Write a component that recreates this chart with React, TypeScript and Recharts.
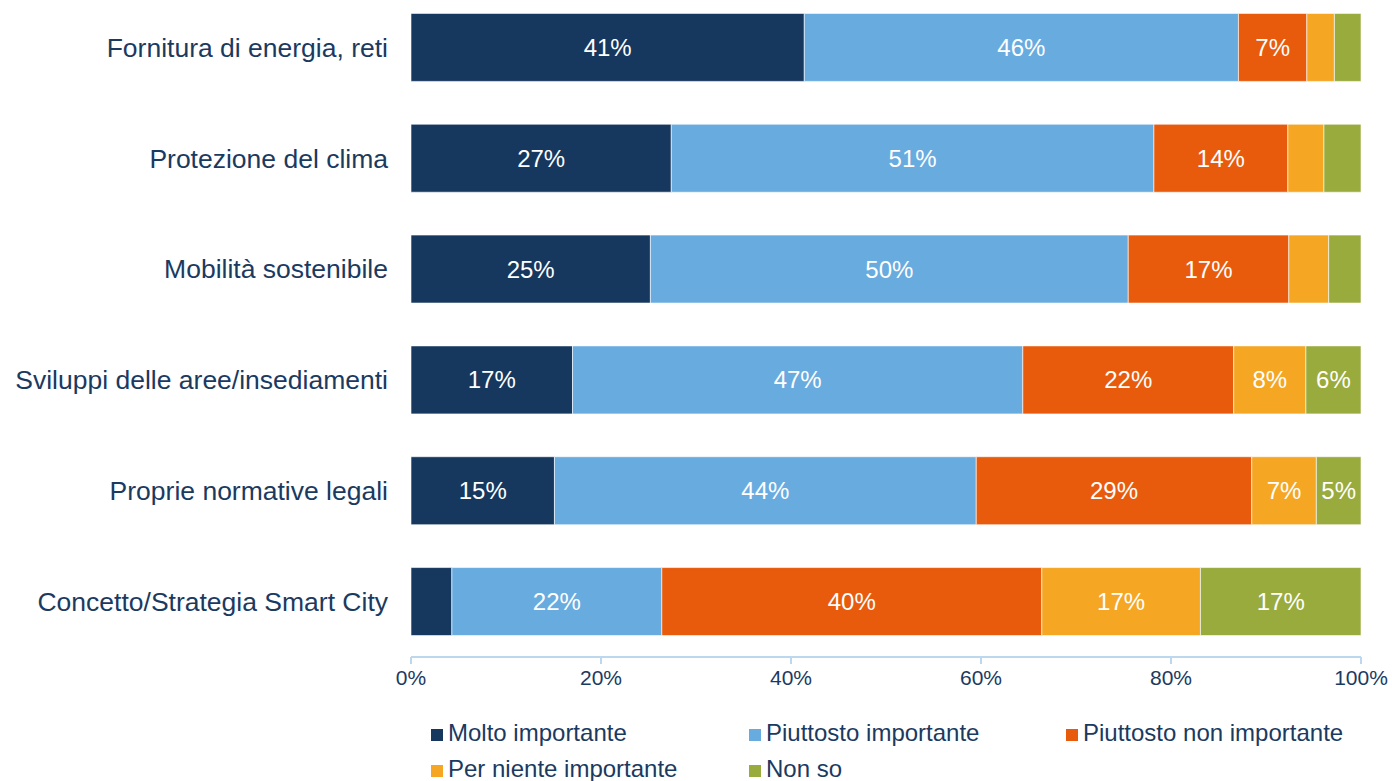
import React from "react";
import { BarChart, Bar, XAxis, YAxis, Legend, LabelList } from "recharts";

const categories = [
  "Fornitura di energia, reti",
  "Protezione del clima",
  "Mobilità sostenibile",
  "Sviluppi delle aree/insediamenti",
  "Proprie normative legali",
  "Concetto/Strategia Smart City",
];
const molto = [41.4, 27.4, 25.2, 17.0, 15.1, 4.3];
const piuttosto = [45.7, 50.8, 50.3, 47.4, 44.4, 22.1];
const piuttostoNon = [7.2, 14.1, 16.9, 22.2, 29.0, 40.0];
const perNiente = [2.9, 3.8, 4.2, 7.6, 6.8, 16.7];
const nonSo = [2.8, 3.9, 3.4, 5.8, 4.7, 16.9];
const xTicks = [0, 20, 40, 60, 80, 100];

const seriesNames = [
  "Molto importante",
  "Piuttosto importante",
  "Piuttosto non importante",
  "Per niente importante",
  "Non so",
];
const seriesKeys = ["molto", "piuttosto", "piuttostoNon", "perNiente", "nonSo"];
const seriesColors = ["#16375E", "#68ABDF", "#E85B0D", "#F5A623", "#99AB3C"];
const seriesValues = [molto, piuttosto, piuttostoNon, perNiente, nonSo];

const data = categories.map((c, i) => {
  const row: any = { name: c };
  seriesKeys.forEach((k, j) => {
    row[k] = seriesValues[j][i];
  });
  return row;
});

const TEXT = "#1B3A5F";
const FONT = "Liberation Sans, Arial, sans-serif";

const renderLabel = (props: any) => {
  const { x, y, width, height, value } = props;
  if (value < 4.5) return null;
  return (
    <text
      x={x + width / 2}
      y={y + height / 2}
      fill="#ffffff"
      fontSize={24}
      fontFamily={FONT}
      textAnchor="middle"
      dominantBaseline="central"
    >
      {Math.round(value) + "%"}
    </text>
  );
};

const colX = [431, 749, 1066];
const rowY = [733, 769];

const renderLegend = () => {
  return (
    <div style={{ position: "relative", width: 1392, height: 1 }}>
      {seriesNames.map((name, i) => {
        const cx = colX[i % 3];
        const cy = rowY[Math.floor(i / 3)] - 715;
        return (
          <div
            key={name}
            style={{
              position: "absolute",
              left: cx,
              top: cy - 15,
              height: 30,
              display: "flex",
              alignItems: "center",
              whiteSpace: "nowrap",
            }}
          >
            <span
              style={{
                display: "inline-block",
                width: 12,
                height: 12,
                background: seriesColors[i],
                marginRight: 5,
                marginTop: 4,
              }}
            />
            <span style={{ fontSize: 24, fontFamily: FONT, color: TEXT }}>{name}</span>
          </div>
        );
      })}
    </div>
  );
};

export default function App() {
  return (
    <div style={{ position: "absolute", left: 0, top: 0, background: "#fff" }}>
      <BarChart
        width={1392}
        height={781}
        data={data}
        layout="vertical"
        margin={{ top: -8, right: 31, bottom: 83, left: 11 }}
        barCategoryGap="19.3%"
      >
        <XAxis
          type="number"
          domain={[0, 100]}
          ticks={xTicks}
          allowDataOverflow
          tickFormatter={(v: number) => v + "%"}
          axisLine={{ stroke: "#BDD7EE", strokeWidth: 2 }}
          tickLine={{ stroke: "#BDD7EE", strokeWidth: 2 }}
          tickSize={7}
          tickMargin={6}
          height={40}
          tick={{ fill: TEXT, fontSize: 21, fontFamily: FONT }}
          interval={0}
        />
        <YAxis
          type="category"
          dataKey="name"
          width={400}
          axisLine={false}
          tickLine={false}
          tickSize={0}
          tickMargin={23}
          tick={{ fill: TEXT, fontSize: 26.5, fontFamily: FONT }}
          interval={0}
        />
        <Legend
          verticalAlign="bottom"
          content={renderLegend}
          wrapperStyle={{ position: "absolute", left: 0, top: 715, width: 1392, height: 1 }}
        />
        {seriesKeys.map((k, j) => (
          <Bar
            key={k}
            dataKey={k}
            name={seriesNames[j]}
            stackId="a"
            fill={seriesColors[j]}
            stroke="#ffffff"
            strokeOpacity={0.6}
            strokeWidth={1}
            isAnimationActive={false}
          >
            <LabelList dataKey={k} content={renderLabel} />
          </Bar>
        ))}
      </BarChart>
    </div>
  );
}
